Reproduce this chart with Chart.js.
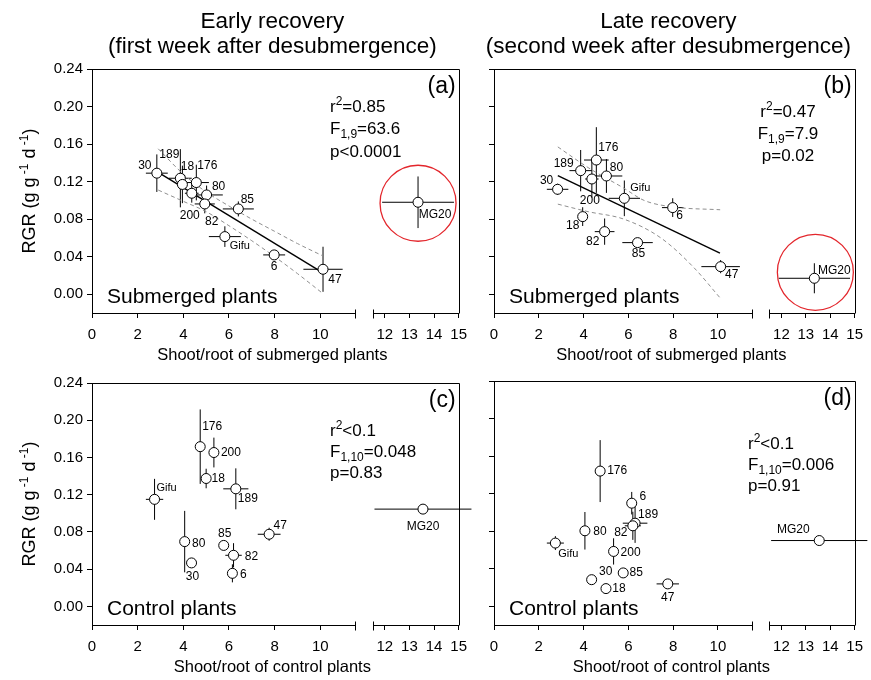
<!DOCTYPE html>
<html>
<head>
<meta charset="utf-8">
<title>RGR vs shoot/root</title>
<script src="https://cdn.jsdelivr.net/npm/chart.js@4.4.1/dist/chart.umd.min.js"></script>
<style>
  body { margin: 0; background: #fff; }
  #figure { position: relative; width: 871px; height: 680px; overflow: hidden; }
  #figure canvas { position: absolute; }
</style>
</head>
<body>
<div id="figure">
  <canvas id="panelA" width="475" height="370" style="left:0;top:0"></canvas>
  <canvas id="panelB" width="396" height="370" style="left:475px;top:0"></canvas>
  <canvas id="panelC" width="475" height="310" style="left:0;top:370px"></canvas>
  <canvas id="panelD" width="396" height="310" style="left:475px;top:370px"></canvas>
</div>
<script>
// genotypes, same order in every array below
const genotypes = ["30", "189", "18", "176", "80", "200", "82", "85", "Gifu", "6", "47", "MG20"];

// shoot/root of submerged plants (x of panels a, b)
const shootRootSub = [2.84, 3.87, 3.96, 4.57, 5.02, 4.37, 4.94, 6.41, 5.82, 7.98, 10.12, 13.35];
const shootRootSubErr = [0.48, 0.5, 0, 0.55, 0.71, 0.3, 0.44, 0.68, 0.7, 0.48, 0.86, 1.46];
// shoot/root of control plants (x of panels c, d)
const shootRootCtrl = [4.36, 6.3, 5.0, 4.74, 4.06, 5.34, 6.2, 5.77, 2.74, 6.15, 7.76, 13.55];
const shootRootCtrlErr = [0, 0.55, 0, 0, 0, 0, 0.36, 0, 0.38, 0.15, 0.5, 1.97];

// RGR (g g-1 d-1)
const rgrEarlySub = [0.129, 0.1236, 0.117, 0.119, 0.1058, 0.1076, 0.0962, 0.0909, 0.0614, 0.0419, 0.0266, 0.098];
const rgrEarlySubErr = [0.02, 0.031, 0.02, 0.019, 0.01, 0.01, 0.01, 0.008, 0.011, 0.004, 0.024, 0.0275];
const rgrLateSub = [0.1118, 0.1317, 0.0827, 0.143, 0.126, 0.1228, 0.0667, 0.055, 0.1022, 0.0923, 0.0294, 0.017];
const rgrLateSubErr = [0.006, 0.022, 0.01, 0.035, 0.018, 0.02, 0.014, 0.004, 0.019, 0.01, 0.007, 0.016];
const rgrEarlyCtrl = [0.0467, 0.1263, 0.1374, 0.1716, 0.0696, 0.1653, 0.0549, 0.0655, 0.115, 0.0355, 0.0775, 0.1045];
const rgrEarlyCtrlErr = [0, 0.022, 0.0105, 0.04, 0.033, 0.016, 0.013, 0, 0.022, 0.0097, 0.007, 0.005];
const rgrLateCtrl = [0.0283, 0.0885, 0.0188, 0.144, 0.0804, 0.0584, 0.0857, 0.0355, 0.0673, 0.1098, 0.0238, 0.07];
const rgrLateCtrlErr = [0, 0.021, 0, 0.033, 0.02, 0.014, 0.015, 0, 0.0074, 0.012, 0, 0.004];

// regression lines and their confidence bands
const fitEarlyX = [2.83, 10.1];
const fitEarlyY = [0.131, 0.023];
const bandEarlyX = [2.9, 4.0, 5.0, 6.0, 7.0, 8.0, 9.0, 10.1];
const bandEarlyUpper = [0.155, 0.128, 0.109, 0.094, 0.08, 0.067, 0.054, 0.041];
const bandEarlyLower = [0.111, 0.099, 0.088, 0.073, 0.057, 0.04, 0.022, 0.001];
const fitLateX = [2.85, 10.09];
const fitLateY = [0.1264, 0.0437];
const bandLateUpperX = [2.85, 4.2, 5.8, 6.7, 8.0, 10.1];
const bandLateUpper = [0.157, 0.135, 0.113, 0.1, 0.093, 0.09];
const bandLateLowerX = [2.85, 4.2, 5.8, 7.45, 8.9, 10.1];
const bandLateLower = [0.096, 0.088, 0.08, 0.06, 0.029, -0.004];

// axes
const rgrTicks = [0, 0.04, 0.08, 0.12, 0.16, 0.2, 0.24];
const xTicksLeft = [0, 2, 4, 6, 8, 10];
const xTicksRight = [12, 13, 14, 15];
const BREAK_AT = 11.5;
const X_MAX = 15;

const FONT = "'Liberation Sans', Arial, sans-serif";
const MG = genotypes.indexOf("MG20");

// label offsets (px from point centre), same order as genotypes
const labelOffsetsA = [[-12, -7], [-11, -24], [5, -18], [11, -17], [12, -8], [-2, 22], [7, 18], [9, -9], [15, 9], [0, 12], [12, 10], [17, 12]];
const labelOffsetsB = [[-11, -9], [-17, -7], [-10, 9], [12, -12], [10, -8], [-2, 22], [-12, 10], [1, 11], [16, -10], [7, 8], [11, 8], [20, -8]];
const labelOffsetsC = [[1, 14], [12, 10], [12, 0], [12, -20], [14, 2], [17, 0], [18, 1], [1, -12], [12, -11], [11, 1], [11, -9], [0, 18]];
const labelOffsetsD = [[14, -8], [13, -8], [13, 0], [17, 0], [15, 1], [17, 1], [-12, 7], [13, 0], [13, 11], [11, -7], [0, 14], [-26, -11]];

const panelSpecs = [
  {
    id: "panelA", x: shootRootSub, xErr: shootRootSubErr, y: rgrEarlySub, yErr: rgrEarlySubErr,
    fit: { x: fitEarlyX, y: fitEarlyY, ux: bandEarlyX, uy: bandEarlyUpper, lx: bandEarlyX, ly: bandEarlyLower },
    letter: "(a)", inset: "Submerged plants", xTitle: "Shoot/root of submerged plants",
    title: ["Early recovery", "(first week after desubmergence)"],
    notes: [[["r", 0], ["2", 1], ["=0.85", 0]], [["F", 0], ["1,9", -1], ["=63.6", 0]], [["p<0.0001", 0]]],
    labels: labelOffsetsA, ring: [0, 1],
    box: { yAxisWidth: 72, pad: { left: 20, right: 16, top: 69, bottom: 5 }, yLabels: true, titleShift: -3, notesDx: 238, notesDy: [37, 59, 82], notesAlign: "left" }
  },
  {
    id: "panelB", x: shootRootSub, xErr: shootRootSubErr, y: rgrLateSub, yErr: rgrLateSubErr,
    fit: { x: fitLateX, y: fitLateY, ux: bandLateUpperX, uy: bandLateUpper, lx: bandLateLowerX, ly: bandLateLower },
    letter: "(b)", inset: "Submerged plants", xTitle: "Shoot/root of submerged plants",
    title: ["Late recovery", "(second week after desubmergence)"],
    notes: [[["r", 0], ["2", 1], ["=0.47", 0]], [["F", 0], ["1,9", -1], ["=7.9", 0]], [["p=0.02", 0]]],
    labels: labelOffsetsB, ring: [1, -6],
    box: { yAxisWidth: 19, pad: { left: 0, right: 9, top: 69, bottom: 5 }, yLabels: false, titleShift: -6, notesDx: 294, notesDy: [42, 64, 86], notesAlign: "center" }
  },
  {
    id: "panelC", x: shootRootCtrl, xErr: shootRootCtrlErr, y: rgrEarlyCtrl, yErr: rgrEarlyCtrlErr,
    fit: null, letter: "(c)", inset: "Control plants", xTitle: "Shoot/root of control plants", title: null,
    notes: [[["r", 0], ["2", 1], ["<0.1", 0]], [["F", 0], ["1,10", -1], ["=0.048", 0]], [["p=0.83", 0]]],
    labels: labelOffsetsC, ring: null,
    box: { yAxisWidth: 72, pad: { left: 20, right: 16, top: 11, bottom: 3 }, yLabels: true, titleShift: 0, notesDx: 238, notesDy: [47, 68, 89], notesAlign: "left" }
  },
  {
    id: "panelD", x: shootRootCtrl, xErr: shootRootCtrlErr, y: rgrLateCtrl, yErr: rgrLateCtrlErr,
    fit: null, letter: "(d)", inset: "Control plants", xTitle: "Shoot/root of control plants", title: null,
    notes: [[["r", 0], ["2", 1], ["<0.1", 0]], [["F", 0], ["1,10", -1], ["=0.006", 0]], [["p=0.91", 0]]],
    labels: labelOffsetsD, ring: null,
    box: { yAxisWidth: 19, pad: { left: 0, right: 9, top: 11, bottom: 3 }, yLabels: false, titleShift: 0, notesDx: 254, notesDy: [62, 83, 104], notesAlign: "left" }
  }
];

// text with super/subscripts: parts = [[text, 0 | 1 (sup) | -1 (sub)], ...]
function drawRich(ctx, parts, x, y, size, align) {
  const small = Math.round(size * 0.68);
  let w = 0;
  parts.forEach(p => {
    ctx.font = (p[1] ? small : size) + "px " + FONT;
    w += ctx.measureText(p[0]).width;
  });
  let cx = align === "center" ? x - w / 2 : align === "right" ? x - w : x;
  ctx.textAlign = "left";
  ctx.textBaseline = "alphabetic";
  parts.forEach(p => {
    ctx.font = (p[1] ? small : size) + "px " + FONT;
    const dy = p[1] === 1 ? -size * 0.4 : p[1] === -1 ? size * 0.22 : 0;
    ctx.fillText(p[0], cx, y + dy);
    cx += ctx.measureText(p[0]).width;
  });
}

function decoPlugin(p) {
  return {
    id: "deco" + p.id,
    beforeDatasetsDraw(chart) {
      const ctx = chart.ctx, ys = chart.scales.y;
      ctx.save();
      ctx.strokeStyle = "#000";
      ctx.lineWidth = 1;
      genotypes.forEach((g, i) => {
        const xs = i === MG ? chart.scales.xR : chart.scales.xL;
        const cx = xs.getPixelForValue(p.x[i]);
        const cy = ys.getPixelForValue(p.y[i]);
        ctx.beginPath();
        if (p.xErr[i] > 0) {
          ctx.moveTo(xs.getPixelForValue(p.x[i] - p.xErr[i]), cy);
          ctx.lineTo(xs.getPixelForValue(p.x[i] + p.xErr[i]), cy);
        }
        if (p.yErr[i] > 0) {
          ctx.moveTo(cx, ys.getPixelForValue(p.y[i] + p.yErr[i]));
          ctx.lineTo(cx, ys.getPixelForValue(p.y[i] - p.yErr[i]));
        }
        ctx.stroke();
      });
      ctx.restore();
    },
    afterDraw(chart) {
      const ctx = chart.ctx, a = chart.chartArea, ys = chart.scales.y;
      const xL = chart.scales.xL, xR = chart.scales.xR;
      const b = Math.round(a.bottom) + 0.5, t = Math.round(a.top) + 0.5, r = Math.round(a.right) + 0.5;
      ctx.save();
      // frame and broken x axis
      ctx.strokeStyle = "#000";
      ctx.lineWidth = 1;
      ctx.beginPath();
      ctx.moveTo(a.left, t); ctx.lineTo(r, t); ctx.lineTo(r, b);
      const l0 = xL.getPixelForValue(0), l1 = Math.round(xL.getPixelForValue(BREAK_AT)) + 0.5;
      const r0 = Math.round(xR.getPixelForValue(BREAK_AT)) + 0.5, r1 = xR.getPixelForValue(X_MAX);
      ctx.moveTo(l0, b); ctx.lineTo(l1, b);
      ctx.moveTo(l1, b - 4); ctx.lineTo(l1, b + 5);
      ctx.moveTo(r0, b); ctx.lineTo(r1, b);
      ctx.moveTo(r0, b - 4); ctx.lineTo(r0, b + 5);
      ctx.stroke();

      // red ring around MG20
      if (p.ring) {
        ctx.strokeStyle = "#e3262c";
        ctx.lineWidth = 1.3;
        ctx.beginPath();
        ctx.arc(xR.getPixelForValue(p.x[MG]) + p.ring[0], ys.getPixelForValue(p.y[MG]) + p.ring[1], 38, 0, Math.PI * 2);
        ctx.stroke();
      }

      ctx.fillStyle = "#000";
      // point labels
      ctx.textAlign = "center";
      ctx.textBaseline = "middle";
      genotypes.forEach((g, i) => {
        const xs = i === MG ? xR : xL;
        ctx.font = (g === "Gifu" ? 11 : 12) + "px " + FONT;
        ctx.fillText(g, xs.getPixelForValue(p.x[i]) + p.labels[i][0], ys.getPixelForValue(p.y[i]) + p.labels[i][1]);
      });

      const bx = p.box;
      const mid = (a.left + a.right) / 2;
      // panel letter
      ctx.font = "23px " + FONT;
      ctx.textAlign = "right";
      ctx.fillText(p.letter, a.right - 3, a.top + 18);
      // inset caption
      ctx.font = "21px " + FONT;
      ctx.textAlign = "left";
      ctx.textBaseline = "alphabetic";
      ctx.fillText(p.inset, a.left + 15, a.bottom - 10);
      // x title
      ctx.font = "16.5px " + FONT;
      ctx.textAlign = "center";
      ctx.textBaseline = "middle";
      ctx.fillText(p.xTitle, mid - 3, a.bottom + 42);
      // column title
      if (p.title) {
        ctx.font = "22.5px " + FONT;
        ctx.fillText(p.title[0], mid + bx.titleShift, 22);
        ctx.fillText(p.title[1], mid + bx.titleShift, 47);
      }
      // y title
      if (bx.yLabels) {
        ctx.save();
        ctx.translate(29, (a.top + a.bottom) / 2);
        ctx.rotate(-Math.PI / 2);
        drawRich(ctx, [["RGR (g g", 0], [" -1", 1], [" d", 0], [" -1", 1], [")", 0]], 0, 6, 18, "center");
        ctx.restore();
      }
      // statistics
      p.notes.forEach((parts, k) => {
        drawRich(ctx, parts, a.left + bx.notesDx, a.top + bx.notesDy[k] + 6, 17, bx.notesAlign);
      });
      ctx.restore();
    }
  };
}

function makeChart(p) {
  const bx = p.box;
  const canvas = document.getElementById(p.id);
  const frameW = canvas.width - bx.pad.left - bx.pad.right - bx.yAxisWidth;
  const gap = 18;
  const unitL = 22.85;
  const leftPx = BREAK_AT * unitL;
  const rightPx = frameW - leftPx - gap;
  const unitR = rightPx / (X_MAX - BREAK_AT);
  const maxL = BREAK_AT + gap / 2 / unitL;
  const minR = BREAK_AT - gap / 2 / unitR;

  const tickFont = { family: FONT, size: 15 };
  const xScale = (min, max, ticks, weight) => ({
    type: "linear", position: "bottom", stack: "x", stackWeight: weight,
    min: min, max: max, bounds: "data",
    afterBuildTicks: s => { s.ticks = ticks.map(v => ({ value: v })); },
    afterFit: s => { s.height = 52; },
    grid: { drawOnChartArea: false, drawTicks: true, tickLength: 5, color: "#000" },
    border: { display: false },
    ticks: { autoSkip: false, maxRotation: 0, padding: 8, color: "#000", font: tickFont }
  });

  const pts = [];
  genotypes.forEach((g, i) => { if (i !== MG) pts.push({ x: p.x[i], y: p.y[i] }); });
  const pointStyle = {
    showLine: false, pointRadius: 5, pointHoverRadius: 5, pointBackgroundColor: "#fff",
    pointBorderColor: "#000", pointBorderWidth: 1, yAxisID: "y"
  };
  const datasets = [
    Object.assign({ label: "genotypes", data: pts, xAxisID: "xL" }, pointStyle),
    Object.assign({ label: "MG20", data: [{ x: p.x[MG], y: p.y[MG] }], xAxisID: "xR" }, pointStyle)
  ];
  if (p.fit) {
    const f = p.fit;
    const toPts = (xs, ys) => xs.map((v, i) => ({ x: v, y: ys[i] }));
    datasets.push({ label: "fit", data: toPts(f.x, f.y), showLine: true, borderColor: "#000", borderWidth: 1.4, pointRadius: 0, xAxisID: "xL", yAxisID: "y" });
    datasets.push({ label: "upper", data: toPts(f.ux, f.uy), showLine: true, borderColor: "#8f8f8f", borderWidth: 1, borderDash: [4, 3], cubicInterpolationMode: "monotone", pointRadius: 0, xAxisID: "xL", yAxisID: "y" });
    datasets.push({ label: "lower", data: toPts(f.lx, f.ly), showLine: true, borderColor: "#8f8f8f", borderWidth: 1, borderDash: [4, 3], cubicInterpolationMode: "monotone", pointRadius: 0, xAxisID: "xL", yAxisID: "y" });
  }

  return new Chart(canvas, {
    type: "scatter",
    data: { datasets: datasets },
    options: {
      responsive: false,
      animation: false,
      events: [],
      layout: { padding: bx.pad },
      plugins: { legend: { display: false }, tooltip: { enabled: false }, title: { display: false } },
      scales: {
        y: {
          type: "linear", position: "left", min: -0.02, max: 0.24, bounds: "data",
          afterBuildTicks: s => { s.ticks = rgrTicks.map(v => ({ value: v })); },
          afterFit: s => { s.width = bx.yAxisWidth; },
          grid: { drawOnChartArea: false, drawTicks: true, tickLength: 5, color: "#000" },
          border: { display: true, color: "#000", width: 1 },
          ticks: { display: bx.yLabels, padding: 4, color: "#000", font: tickFont, callback: v => v.toFixed(2) }
        },
        xL: xScale(0, maxL, xTicksLeft, leftPx + gap / 2),
        xR: xScale(minR, X_MAX, xTicksRight, rightPx + gap / 2)
      }
    },
    plugins: [decoPlugin(p)]
  });
}

panelSpecs.forEach(makeChart);
</script>
</body>
</html>
